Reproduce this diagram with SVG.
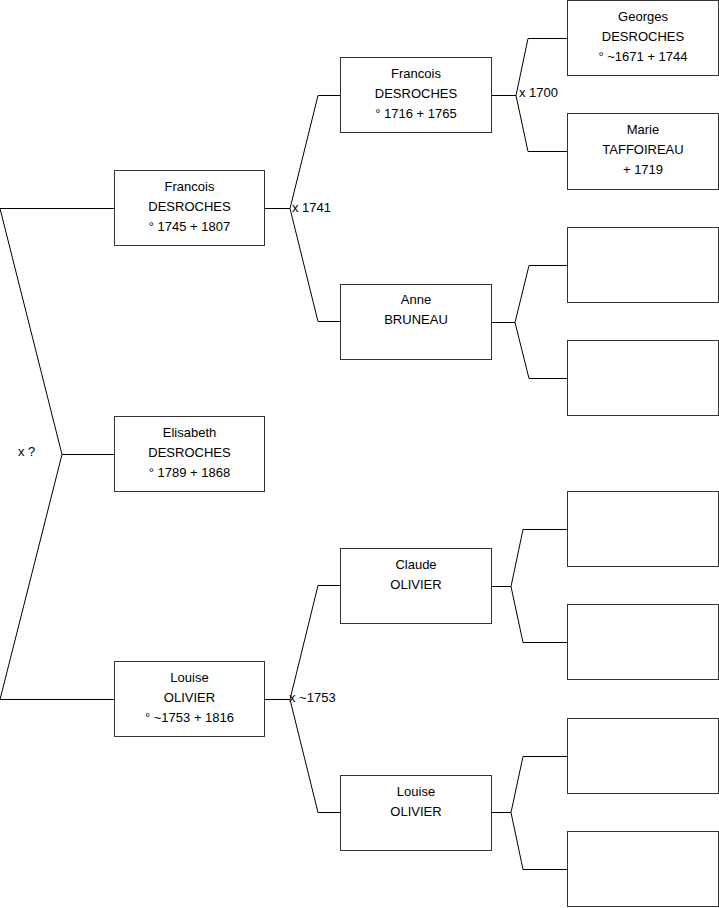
<svg xmlns="http://www.w3.org/2000/svg" width="719" height="908" viewBox="0 0 719 908">
<style>
rect.box{fill:#fff;stroke:#333;stroke-width:1}
text{font-family:"Liberation Sans",Arial,sans-serif;font-size:13px;fill:#000}
text.c{text-anchor:middle}
.conn path{fill:none;stroke:#000;stroke-width:1}
</style>
<rect width="719" height="908" fill="#fff"/>
<g class="conn" id="connectors">
<path d="M0,208.5H114.5M0,208.5L62,454.5L0,699.5H114.5M62,454.5H114.5"/>
<path d="M264.5,208.5H290L318,95.5H340.5M290,208.5L318,321.5H340.5"/>
<path d="M264.5,699.5H290L318,585.5H340.5M290,699.5L318,812.5H340.5"/>
<path d="M491.5,95.5H516L528,38.5H567.5M516,95.5L528,151.5H567.5"/>
<path d="M491.5,322.5H515L529,265.5H567.5M515,322.5L529,378.5H567.5"/>
<path d="M491.5,586.5H511L523,529.5H567.5M511,586.5L523,642.5H567.5"/>
<path d="M491.5,812.5H511L523,756.5H567.5M511,812.5L523,869.5H567.5"/>
<text x="18" y="456">x ?</text>
<text x="292" y="212">x 1741</text>
<text x="519" y="97">x 1700</text>
<text x="289" y="702">x ~1753</text>
</g>
<g id="francois1"><rect class="box" x="114.5" y="170.5" width="150" height="75"/>
<text class="c" x="189.5" y="191">Francois</text><text class="c" x="189.5" y="211">DESROCHES</text><text class="c" x="189.5" y="231">° 1745 + 1807</text></g>
<g id="elisabeth"><rect class="box" x="114.5" y="416.5" width="150" height="75"/>
<text class="c" x="189.5" y="437">Elisabeth</text><text class="c" x="189.5" y="457">DESROCHES</text><text class="c" x="189.5" y="477">° 1789 + 1868</text></g>
<g id="louise1"><rect class="box" x="114.5" y="661.5" width="150" height="75"/>
<text class="c" x="189.5" y="682">Louise</text><text class="c" x="189.5" y="702">OLIVIER</text><text class="c" x="189.5" y="722">° ~1753 + 1816</text></g>
<g id="francois2"><rect class="box" x="340.5" y="57.5" width="151" height="75"/>
<text class="c" x="416" y="78">Francois</text><text class="c" x="416" y="98">DESROCHES</text><text class="c" x="416" y="118">° 1716 + 1765</text></g>
<g id="anne"><rect class="box" x="340.5" y="284.5" width="151" height="75"/>
<text class="c" x="416" y="304">Anne</text><text class="c" x="416" y="324">BRUNEAU</text></g>
<g id="claude"><rect class="box" x="340.5" y="548.5" width="151" height="75"/>
<text class="c" x="416" y="569">Claude</text><text class="c" x="416" y="589">OLIVIER</text></g>
<g id="louise2"><rect class="box" x="340.5" y="775.5" width="151" height="75"/>
<text class="c" x="416" y="796">Louise</text><text class="c" x="416" y="816">OLIVIER</text></g>
<g id="georges"><rect class="box" x="567.5" y="0.5" width="151" height="75"/>
<text class="c" x="643" y="21">Georges</text><text class="c" x="643" y="41">DESROCHES</text><text class="c" x="643" y="61">° ~1671 + 1744</text></g>
<g id="marie"><rect class="box" x="567.5" y="113.5" width="151" height="76"/>
<text class="c" x="643" y="134">Marie</text><text class="c" x="643" y="154">TAFFOIREAU</text><text class="c" x="643" y="174">+ 1719</text></g>
<g id="g3a"><rect class="box" x="567.5" y="227.5" width="151" height="75"/></g>
<g id="g3b"><rect class="box" x="567.5" y="340.5" width="151" height="75"/></g>
<g id="g3c"><rect class="box" x="567.5" y="491.5" width="151" height="75"/></g>
<g id="g3d"><rect class="box" x="567.5" y="604.5" width="151" height="75"/></g>
<g id="g3e"><rect class="box" x="567.5" y="718.5" width="151" height="75"/></g>
<g id="g3f"><rect class="box" x="567.5" y="831.5" width="151" height="75"/></g>
</svg>
